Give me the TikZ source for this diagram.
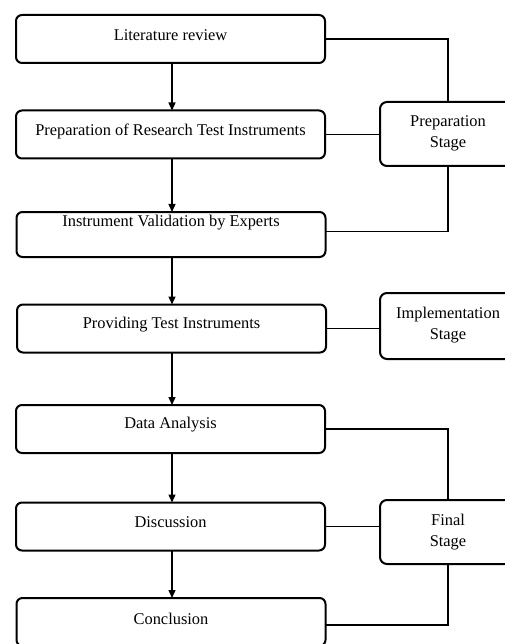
\documentclass[tikz,border=0pt]{standalone}
\usepackage{fontspec}
\setmainfont{Liberation Serif}
\usetikzlibrary{arrows.meta,calc}
\begin{document}
\begin{tikzpicture}[x=1pt,y=-1pt,
  stepbox/.style={draw, line width=2pt, rounded corners=6pt, minimum width=309pt, minimum height=48pt, inner sep=0pt, outer sep=0pt},
  stagebox/.style={draw, line width=2pt, rounded corners=7pt, minimum width=136pt, inner sep=0pt, outer sep=0pt},
  lbl/.style={font=\fontsize{16.4pt}{21pt}\selectfont, inner sep=0pt, align=center},
  flow/.style={line width=1.4pt, -{Triangle[length=8pt,width=7pt]}},
  link/.style={line width=1.5pt}]
\useasboundingbox (0,0) rectangle (505,644);
\clip (0,0) rectangle (505,644);
% step boxes
\node[stepbox] (b1) at (170.5,39) {};
\node[stepbox] (b2) at (170.5,134.5) {};
\node[stepbox, minimum height=45pt] (b3) at (171,234.5) {};
\node[stepbox] (b4) at (171.5,328.5) {};
\node[stepbox] (b5) at (170.5,429) {};
\node[stepbox] (b6) at (170.5,526.5) {};
\node[stepbox] (b7) at (171,622) {};
% step texts
\node[lbl] (t1) at (170.5,35) {Literature review};
\node[lbl] (t2) at (170.5,131) {Preparation of Research Test Instruments};
\node[lbl] (t3) at (171,223) {Instrument Validation by Experts};
\node[lbl] (t4) at (171.5,325) {Providing Test Instruments};
\node[lbl] (t5) at (170.5,425) {Data Analysis};
\node[lbl] (t6) at (170.5,522) {Discussion};
\node[lbl] (t7) at (171,619) {Conclusion};
% stage boxes
\node[stagebox, minimum height=64pt] (s1) at (448,134) {};
\node[stagebox, minimum height=66pt] (s2) at (448,326) {};
\node[stagebox, minimum height=64pt] (s3) at (448,532) {};
\node[lbl] (u1) at (448,133.5) {Preparation\\Stage};
\node[lbl] (u2) at (448,325.5) {Implementation\\Stage};
\node[lbl] (u3) at (448,532.5) {Final\\Stage};
% flow arrows
\draw[flow] (b1.south -| 172,0) -- (b2.north -| 172,0);
\draw[flow] (b2.south -| 172,0) -- (b3.north -| 172,0);
\draw[flow] (b3.south -| 172,0) -- (b4.north -| 172,0);
\draw[flow] (b4.south -| 172,0) -- (b5.north -| 172,0);
\draw[flow] (b5.south -| 172,0) -- (b6.north -| 172,0);
\draw[flow] (b6.south -| 172,0) -- (b7.north -| 172,0);
% stage links
\draw[link] (b1.east) -| (s1.north);
\draw[link] (b2.east) -- (b2.east -| s1.west);
\draw[link] ($(b3.east)+(0,-3)$) -| (s1.south);
\draw[link] (b4.east) -- (b4.east -| s2.west);
\draw[link] (b5.east) -| (s3.north);
\draw[link] (b6.east) -- (b6.east -| s3.west);
\draw[link] ($(b7.east)+(0,3)$) -| (s3.south);
\end{tikzpicture}
\end{document}
